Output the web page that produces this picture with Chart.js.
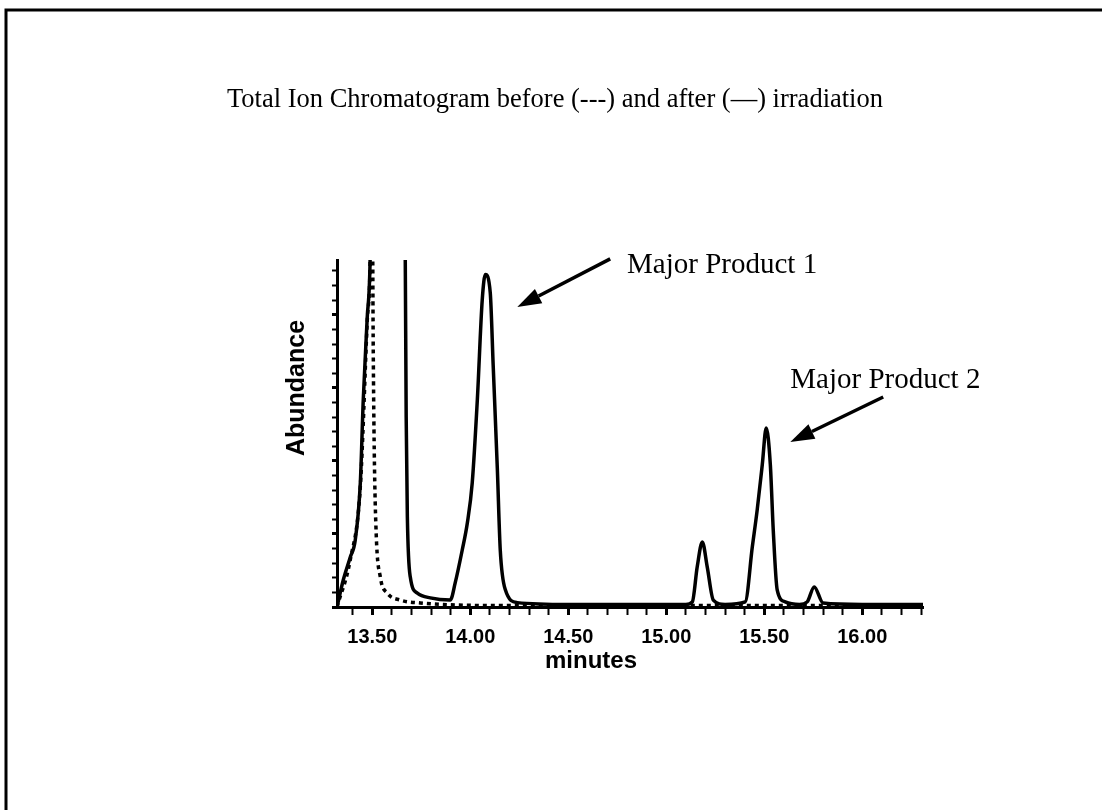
<!DOCTYPE html>
<html>
<head>
<meta charset="utf-8">
<script src="https://cdn.jsdelivr.net/npm/chart.js@4.4.1/dist/chart.umd.min.js"></script>
<style>
  html, body { margin: 0; padding: 0; background: #fff; }
  canvas { display: block; }
</style>
</head>
<body>
<canvas id="ticChart" width="1102" height="810"></canvas>
<script>
// after irradiation (solid trace)
const timeAfter = [13.32, 13.352, 13.388, 13.413, 13.439, 13.454, 13.474, 13.49, 13.52, 13.58, 13.64,
    13.668, 13.673, 13.679, 13.694, 13.73, 13.796, 13.898, 13.923, 13.959, 13.985, 14.01, 14.036,
    14.061, 14.077, 14.102, 14.117, 14.138, 14.153, 14.179, 14.24, 14.5, 14.8, 15.1, 15.133, 15.158,
    15.184, 15.209, 15.24, 15.3, 15.403, 15.439, 15.464, 15.49, 15.51, 15.531, 15.546, 15.566,
    15.607, 15.68, 15.719, 15.755, 15.8, 16.0, 16.31];
const abundanceAfter = [0, 7.4, 13.7, 18.3, 34, 56.7, 79, 98, 250, 400, 250,
    98, 52, 24.7, 8.2, 3.8, 2.5, 1.9, 6.6, 15.6, 23, 34, 56.7,
    84, 91, 86, 66, 38, 15.6, 4.7, 1.2, 0.7, 0.7, 0.7, 1.4, 11,
    17.8, 11, 1.9, 0.7, 1.4, 16.4, 26.6, 39, 49, 39, 21, 4.7,
    1.4, 0.7, 1.4, 5.5, 1.1, 0.7, 0.7];

// before irradiation (dotted trace)
const timeBefore = [13.32, 13.388, 13.439, 13.474, 13.49, 13.497, 13.505, 13.51, 13.52, 13.541,
    13.577, 13.643, 13.745, 13.9, 14.2, 14.6, 15.2, 15.8, 16.31];
const abundanceBefore = [0, 13, 33, 78, 98, 140, 70, 43, 20, 8.2,
    3.8, 1.9, 1.1, 0.6, 0.4, 0.4, 0.4, 0.4, 0.4];

const chartTitle = 'Total Ion Chromatogram before (---) and after (\u2014) irradiation';
const xTitle = 'minutes';
const yTitle = 'Abundance';

// peak labels: [text, text x, text y, arrow tail x, tail y, head x, head y] in data units
const peakNotes = [
    ['Major Product 1', 14.80, 93.6, 14.714, 95.3, 14.24, 82.1],
    ['Major Product 2', 15.633, 62.1, 16.107, 57.5, 15.633, 45.2],
];

const toPoints = (xs, ys) => xs.map((x, i) => ({x: x, y: ys[i]}));

const SANS = "'Liberation Sans', Arial, sans-serif";
const SERIF = "'Liberation Serif', 'Times New Roman', serif";

const isHalf = v => Math.abs(v * 2 - Math.round(v * 2)) < 1e-6;
const isTwenty = v => Math.abs(v / 20 - Math.round(v / 20)) < 1e-6;

const decorPlugin = {
    id: 'decor',
    beforeDraw(chart) {
        const ctx = chart.ctx;
        ctx.save();
        ctx.fillStyle = '#fff';
        ctx.fillRect(0, 0, chart.width, chart.height);
        ctx.restore();
    },
    afterDraw(chart) {
        const ctx = chart.ctx;
        const xs = chart.scales.x, ys = chart.scales.y;
        ctx.save();
        // page frame
        ctx.strokeStyle = '#000';
        ctx.lineWidth = 3;
        ctx.beginPath();
        ctx.moveTo(6, chart.height);
        ctx.lineTo(6, 10);
        ctx.lineTo(chart.width, 10);
        ctx.stroke();

        ctx.fillStyle = '#000';
        ctx.textBaseline = 'middle';
        ctx.textAlign = 'center';
        ctx.font = '26.5px ' + SERIF;
        ctx.fillText(chartTitle, 555, 100);

        ctx.font = 'bold 24px ' + SANS;
        ctx.fillText(xTitle, 591, 661);
        ctx.save();
        ctx.translate(297, 388);
        ctx.rotate(-Math.PI / 2);
        ctx.font = 'bold 25px ' + SANS;
        ctx.fillText(yTitle, 0, 0);
        ctx.restore();

        ctx.font = '29px ' + SERIF;
        ctx.textAlign = 'left';
        peakNotes.forEach(n => {
            ctx.fillText(n[0], xs.getPixelForValue(n[1]), ys.getPixelForValue(n[2]));
            const x1 = xs.getPixelForValue(n[3]), y1 = ys.getPixelForValue(n[4]);
            const x2 = xs.getPixelForValue(n[5]), y2 = ys.getPixelForValue(n[6]);
            const a = Math.atan2(y2 - y1, x2 - x1);
            const len = 24, half = 8;
            const bx = x2 - len * Math.cos(a), by = y2 - len * Math.sin(a);
            ctx.lineWidth = 3.5;
            ctx.beginPath();
            ctx.moveTo(x1, y1);
            ctx.lineTo(bx, by);
            ctx.stroke();
            ctx.beginPath();
            ctx.moveTo(x2, y2);
            ctx.lineTo(bx + half * Math.sin(a), by - half * Math.cos(a));
            ctx.lineTo(bx - half * Math.sin(a), by + half * Math.cos(a));
            ctx.closePath();
            ctx.fill();
        });
        ctx.restore();
    }
};

const config = {
    type: 'scatter',
    data: {
        datasets: [{
            label: 'after',
            data: toPoints(timeAfter, abundanceAfter),
            showLine: true,
            borderColor: '#000',
            borderWidth: 3.5,
            pointRadius: 0,
            cubicInterpolationMode: 'monotone',
        }, {
            label: 'before',
            data: toPoints(timeBefore, abundanceBefore),
            showLine: true,
            borderColor: '#000',
            borderWidth: 3.5,
            borderDash: [4, 4],
            pointRadius: 0,
            cubicInterpolationMode: 'monotone',
        }]
    },
    options: {
        responsive: false,
        animation: false,
        events: [],
        layout: {
            padding: {left: 317, right: 179, top: 260, bottom: 153}
        },
        plugins: {
            legend: {display: false},
            title: {display: false},
            tooltip: {enabled: false},
        },
        scales: {
            x: {
                type: 'linear',
                min: 13.32,
                max: 16.31,
                afterFit: s => { s.height = 50; },
                border: {display: true, color: '#000', width: 3},
                grid: {
                    drawOnChartArea: false,
                    drawTicks: true,
                    tickLength: 8,
                    tickColor: '#000',
                    tickWidth: c => isHalf(c.tick.value) ? 3 : 2,
                },
                ticks: {
                    stepSize: 0.1,
                    includeBounds: false,
                    autoSkip: false,
                    maxRotation: 0,
                    padding: 10,
                    color: '#000',
                    font: {family: SANS, size: 20, weight: 'bold'},
                    callback: v => isHalf(v) ? v.toFixed(2) : '',
                },
            },
            y: {
                min: 0,
                max: 95,
                afterFit: s => { s.width = 20; },
                border: {display: true, color: '#000', width: 3},
                grid: {
                    drawOnChartArea: false,
                    drawTicks: true,
                    tickLength: 5,
                    tickColor: '#000',
                    tickWidth: c => isTwenty(c.tick.value) ? 3 : 2,
                },
                ticks: {
                    stepSize: 4,
                    includeBounds: false,
                    autoSkip: false,
                    padding: 0,
                    callback: () => '',
                },
            },
        },
    },
    plugins: [decorPlugin],
};

const ticChart = new Chart(document.getElementById('ticChart'), config);
</script>
</body>
</html>
